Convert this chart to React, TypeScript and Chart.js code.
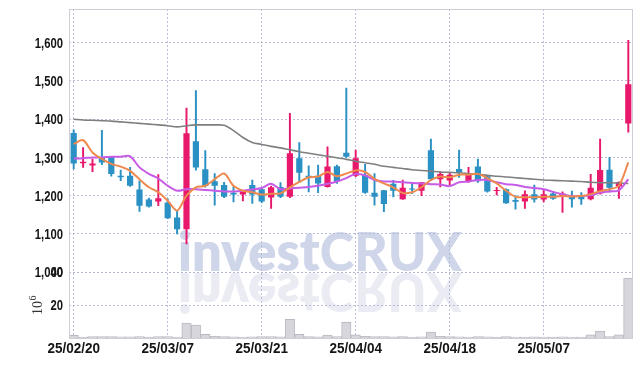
import React, { useEffect, useRef } from 'react';
import { Chart, registerables } from 'chart.js';

Chart.register(...registerables);

const dates = [
  '25/02/20', '25/02/21', '25/02/24', '25/02/25', '25/02/26', '25/02/27', '25/02/28', '25/03/04', '25/03/05', '25/03/06',
  '25/03/07', '25/03/10', '25/03/11', '25/03/12', '25/03/13', '25/03/14', '25/03/17', '25/03/18', '25/03/19', '25/03/20',
  '25/03/21', '25/03/24', '25/03/25', '25/03/26', '25/03/27', '25/03/28', '25/03/31', '25/04/01', '25/04/02', '25/04/03',
  '25/04/04', '25/04/07', '25/04/08', '25/04/09', '25/04/10', '25/04/11', '25/04/14', '25/04/15', '25/04/16', '25/04/17',
  '25/04/18', '25/04/21', '25/04/22', '25/04/23', '25/04/24', '25/04/25', '25/04/28', '25/04/29', '25/04/30', '25/05/02',
  '25/05/07', '25/05/08', '25/05/09', '25/05/12', '25/05/13', '25/05/14', '25/05/15', '25/05/16', '25/05/19', '25/05/20',
];

const opens = [
  1364, 1285, 1279, 1300, 1302, 1252, 1252, 1216, 1190, 1185,
  1182, 1143, 1112, 1342, 1269, 1238, 1228, 1208, 1203, 1228,
  1217, 1195, 1223, 1197, 1298, 1252, 1252, 1223, 1277, 1312,
  1252, 1254, 1208, 1214, 1231, 1191, 1219, 1213, 1319, 1243,
  1240, 1270, 1237, 1276, 1251, 1212, 1217, 1189, 1185, 1204,
  1190, 1206, 1199, 1199, 1199, 1191, 1206, 1268, 1224, 1389,
];
const highs = [
  1372, 1326, 1296, 1371, 1303, 1267, 1274, 1239, 1194, 1255,
  1192, 1159, 1429, 1475, 1318, 1258, 1235, 1223, 1210, 1241,
  1219, 1225, 1234, 1415, 1339, 1278, 1280, 1328, 1280, 1481,
  1319, 1282, 1258, 1214, 1240, 1241, 1232, 1235, 1348, 1263,
  1261, 1319, 1274, 1296, 1252, 1222, 1218, 1200, 1213, 1228,
  1214, 1208, 1210, 1212, 1208, 1256, 1348, 1300, 1236, 1606,
];
const lows = [
  1270, 1274, 1263, 1281, 1251, 1239, 1224, 1159, 1170, 1174,
  1140, 1100, 1074, 1267, 1222, 1175, 1195, 1184, 1186, 1180,
  1182, 1167, 1195, 1195, 1234, 1210, 1208, 1222, 1232, 1300,
  1250, 1206, 1175, 1158, 1197, 1190, 1205, 1200, 1239, 1223,
  1228, 1248, 1235, 1235, 1209, 1202, 1180, 1165, 1167, 1183,
  1184, 1190, 1156, 1170, 1177, 1189, 1204, 1210, 1193, 1366,
];
const closes = [
  1284, 1289, 1284, 1287, 1257, 1248, 1226, 1174, 1172, 1193,
  1141, 1112, 1363, 1274, 1225, 1226, 1197, 1203, 1210, 1203,
  1185, 1222, 1197, 1311, 1260, 1249, 1232, 1276, 1237, 1302,
  1298, 1208, 1197, 1178, 1213, 1221, 1216, 1235, 1243, 1257,
  1255, 1262, 1257, 1238, 1211, 1215, 1180, 1184, 1204, 1190,
  1204, 1192, 1206, 1191, 1191, 1221, 1267, 1221, 1236, 1491,
];

const ma5 = [
  1335, 1345, 1313, 1296, 1283, 1276, 1265, 1243, 1222, 1209,
  1187, 1161, 1200, 1222, 1226, 1243, 1258, 1226, 1213, 1209,
  1203, 1205, 1206, 1222, 1236, 1248, 1250, 1262, 1251, 1258,
  1266, 1262, 1244, 1232, 1222, 1207, 1209, 1222, 1241, 1250,
  1248, 1255, 1255, 1257, 1246, 1232, 1213, 1197, 1196, 1196,
  1197, 1197, 1199, 1198, 1199, 1204, 1212, 1217, 1226, 1287,
];
const ma20 = [
  1297, 1298, 1300, 1300, 1302, 1302, 1303, 1274, 1257, 1245,
  1226, 1213, 1217, 1217, 1215, 1213, 1211, 1211, 1213, 1216,
  1220, 1231, 1217, 1219, 1221, 1223, 1226, 1231, 1237, 1246,
  1257, 1253, 1241, 1237, 1237, 1235, 1233, 1232, 1230, 1229,
  1225, 1235, 1237, 1241, 1241, 1235, 1230, 1228, 1223, 1220,
  1217, 1210, 1204, 1199, 1199, 1201, 1208, 1211, 1214, 1243,
];
const ma60 = [
  1400, 1398, 1397, 1396, 1395, 1393, 1391, 1389, 1387, 1385,
  1383, 1380, 1383, 1385, 1385, 1385, 1384, 1370, 1352, 1339,
  1334, 1329, 1325, 1320, 1315, 1311, 1307, 1303, 1299, 1295,
  1290, 1286, 1282, 1277, 1274, 1271, 1268, 1266, 1264, 1262,
  1261, 1260, 1258, 1256, 1253, 1251, 1249, 1247, 1245, 1243,
  1241, 1240, 1239, 1238, 1237, 1235, 1234, 1234, 1233, 1232,
];

const volumes = [
  1.6, 0.5, 0.9, 0.9, 0.8, 0.7, 0.7, 0.9, 0.5, 0.8,
  0.8, 0.6, 9.0, 7.8, 2.3, 1.0, 0.8, 0.7, 0.6, 0.7,
  0.9, 0.9, 0.7, 11.3, 2.2, 0.8, 0.7, 1.8, 0.8, 9.6,
  1.9, 1.0, 0.8, 0.8, 0.7, 0.8, 0.6, 0.7, 3.6, 1.0,
  0.8, 0.7, 0.6, 0.8, 0.7, 0.5, 0.8, 0.6, 0.5, 0.7,
  0.6, 0.5, 0.7, 0.6, 0.6, 1.9, 4.2, 0.9, 1.9, 36.4,
];

const priceMin = 1000;
const priceMax = 1688;
const priceStep = 100;
const volMax = 40;
const volStep = 20;
const labelEvery = 10;
const volTitleBase = '10';
const volTitleExp = '6';
const watermarkA = 'invest';
const watermarkB = 'CRUX';

const UP = '#e8196c';
const DOWN = '#2b91c4';
const LABEL_FONT = "bold 15px 'Liberation Sans', Arial, sans-serif";
const GRID = { color: 'rgba(175,180,208,0.85)', lineWidth: 1 };
const BORDER = { display: false, dash: [2, 2] };

const candleColors = opens.map((o, i) => (closes[i] >= o ? UP : DOWN));

const drawSquished = (ctx: any, text: string, x: number, y: number, sx: number, align: 'right' | 'center') => {
  ctx.save();
  const w = ctx.measureText(text).width * sx;
  const left = align === 'right' ? x - w : x - w / 2;
  ctx.translate(left, y);
  ctx.scale(sx, 1);
  ctx.textAlign = 'left';
  ctx.fillText(text, 0, 0);
  ctx.restore();
};

const chartPlugin = {
  id: 'decor',
  beforeDraw(chart: any) {
    const { ctx, chartArea, scales } = chart;
    const baseY = scales.y.getPixelForValue(priceMin);
    const x0 = chartArea.left + 109;
    const targetW = 284;
    ctx.save();
    ctx.fillStyle = '#ffffff';
    ctx.fillRect(0, 0, chart.width, chart.height);
    const fA = "800 54px Lato, 'Open Sans', sans-serif";
    const fB = "900 54px Lato, 'Open Sans', sans-serif";
    ctx.font = fA;
    const wA = ctx.measureText(watermarkA).width;
    ctx.font = fB;
    const wB = ctx.measureText(watermarkB).width;
    const sx = targetW / (wA + wB);
    const drawText = (color: string) => {
      ctx.fillStyle = color;
      ctx.font = fA;
      ctx.fillText(watermarkA, 0, 0);
      ctx.font = fB;
      ctx.fillText(watermarkB, wA, 0);
    };
    ctx.textBaseline = 'alphabetic';
    ctx.save();
    ctx.translate(x0, baseY - 1);
    ctx.scale(sx, 1);
    drawText('rgb(208,214,234)');
    ctx.restore();
    ctx.save();
    ctx.translate(x0, baseY + 1);
    ctx.scale(sx, -1);
    drawText('rgb(234,235,243)');
    ctx.restore();
    ctx.restore();
  },
  afterDraw(chart: any) {
    const { ctx, chartArea, scales } = chart;
    ctx.save();
    ctx.strokeStyle = 'rgb(205,206,214)';
    ctx.lineWidth = 1;
    ctx.strokeRect(chartArea.left + 0.5, chartArea.top + 0.5, chartArea.right - chartArea.left - 1, chartArea.bottom - chartArea.top);

    ctx.fillStyle = '#151515';
    ctx.font = LABEL_FONT;
    ctx.textBaseline = 'middle';
    for (const id of ['y', 'v']) {
      const s = scales[id];
      for (const t of s.ticks) {
        const txt = id === 'y' ? Number(t.value).toLocaleString('en-US') : String(t.value);
        drawSquished(ctx, txt, chartArea.left - 6, s.getPixelForValue(t.value) + 1, 0.75, 'right');
      }
    }
    const xs = scales.x;
    ctx.textBaseline = 'middle';
    for (const t of xs.ticks) {
      drawSquished(ctx, dates[t.value], xs.getPixelForValue(t.value), chartArea.bottom + 11, 0.9, 'center');
    }

    const v = scales.v;
    ctx.fillStyle = '#333';
    ctx.translate(34, (v.top + v.bottom) / 2 + 10);
    ctx.rotate(-Math.PI / 2);
    ctx.font = "14px 'Liberation Serif', serif";
    ctx.textBaseline = 'alphabetic';
    ctx.fillText(volTitleBase, 0, 0);
    const w = ctx.measureText(volTitleBase).width;
    ctx.font = "10px 'Liberation Serif', serif";
    ctx.fillText(volTitleExp, w + 0.5, -6);
    ctx.restore();
  },
};

export default function App() {
  const ref = useRef<HTMLCanvasElement | null>(null);
  useEffect(() => {
    if (!ref.current) return;
    const chart = new Chart(ref.current, {
      type: 'bar',
      data: {
        labels: dates,
        datasets: [
          { type: 'line', label: 'MA5', data: ma5, yAxisID: 'y', borderColor: '#ef8a4e', borderWidth: 2, pointRadius: 0, tension: 0.3, order: 1 } as any,
          { type: 'line', label: 'MA20', data: ma20, yAxisID: 'y', borderColor: '#c75ce6', borderWidth: 2, pointRadius: 0, tension: 0.3, order: 2 } as any,
          { type: 'line', label: 'MA60', data: ma60, yAxisID: 'y', borderColor: '#7f7f7f', borderWidth: 1.6, pointRadius: 0, tension: 0.3, order: 3 } as any,
          {
            type: 'bar', label: 'body', yAxisID: 'y', order: 4, grouped: false,
            data: opens.map((o, i) => [Math.min(o, closes[i]), Math.max(o, closes[i])]),
            backgroundColor: candleColors, borderWidth: 0, barPercentage: 0.66, categoryPercentage: 1,
          } as any,
          {
            type: 'bar', label: 'wick', yAxisID: 'y', order: 5, grouped: false,
            data: lows.map((l, i) => [l, highs[i]]),
            backgroundColor: candleColors, borderWidth: 0, barThickness: 1.3,
          } as any,
          {
            type: 'bar', label: 'volume', yAxisID: 'v', order: 6, grouped: false,
            data: volumes,
            backgroundColor: 'rgb(214,214,220)', borderColor: 'rgb(185,185,194)', borderWidth: 1,
            barPercentage: 1, categoryPercentage: 1,
          } as any,
        ],
      },
      options: {
        animation: false,
        responsive: true,
        maintainAspectRatio: false,
        layout: { padding: { top: 1, right: 2, left: 0, bottom: 0 } },
        plugins: { legend: { display: false }, tooltip: { enabled: false } },
        scales: {
          x: {
            type: 'category',
            offset: true,
            grid: { ...GRID, offset: false, drawTicks: false },
            border: BORDER,
            afterBuildTicks: (s: any) => { s.ticks = s.ticks.filter((t: any) => t.value % labelEvery === 0); },
            afterFit: (s: any) => { s.height = 20; s.paddingLeft = 0; s.paddingRight = 0; },
            ticks: { display: false, autoSkip: false, maxRotation: 0 },
          },
          v: {
            type: 'linear', position: 'left', stack: 'panes', stackWeight: 1,
            min: 0, max: volMax,
            grid: { ...GRID, drawTicks: false },
            border: BORDER,
            afterBuildTicks: (s: any) => { s.ticks = s.ticks.filter((t: any) => t.value > 0 && t.value % volStep === 0); },
            afterFit: (s: any) => { s.width = 61; s.paddingTop = 0; s.paddingBottom = 0; },
            ticks: { display: false, stepSize: volStep },
          },
          y: {
            type: 'linear', position: 'left', stack: 'panes', stackWeight: 4,
            min: priceMin, max: priceMax,
            grid: { ...GRID, drawTicks: false },
            border: BORDER,
            afterBuildTicks: (s: any) => { s.ticks = s.ticks.filter((t: any) => t.value % priceStep === 0); },
            afterFit: (s: any) => { s.width = 61; s.paddingTop = 0; s.paddingBottom = 0; },
            ticks: { display: false, stepSize: priceStep },
          },
        },
      } as any,
      plugins: [chartPlugin],
    });
    return () => chart.destroy();
  }, []);
  return (
    <div style={{ position: 'relative', width: 627, height: 350 }}>
      <canvas ref={ref} />
    </div>
  );
}
